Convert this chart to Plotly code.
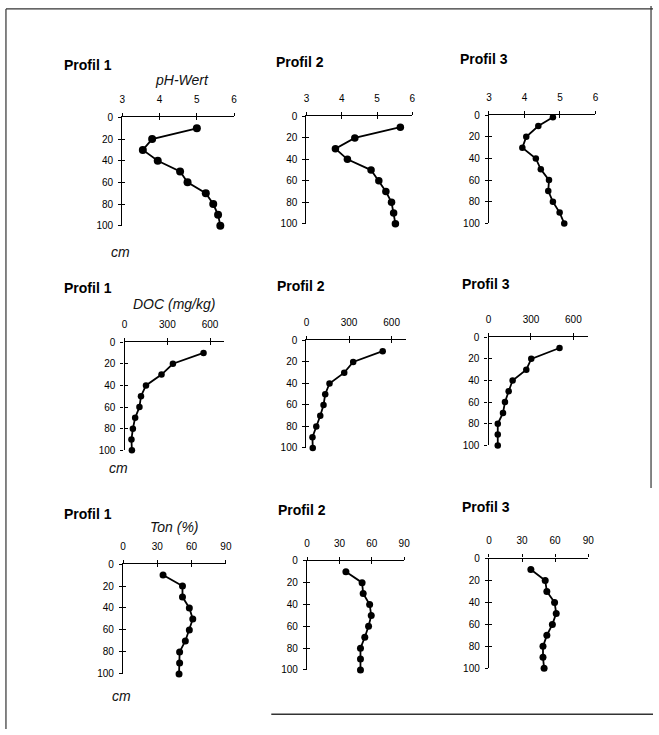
import plotly.graph_objects as go

W, H = 659, 735

# ---------------- data ----------------
depth = [10, 20, 30, 40, 50, 60, 70, 80, 90, 100]
depth_ph3 = [2, 10, 20, 30, 40, 50, 60, 70, 80, 90, 100]

ph_p1 = [5.0, 3.8, 3.55, 3.95, 4.55, 4.75, 5.24, 5.44, 5.57, 5.63]
ph_p2 = [5.66, 4.37, 3.82, 4.16, 4.83, 5.05, 5.25, 5.41, 5.47, 5.52]
ph_p3 = [4.80, 4.39, 4.05, 3.94, 4.32, 4.46, 4.69, 4.67, 4.80, 4.99, 5.12]

doc_p1 = [554, 339, 259, 150, 115, 104, 74, 58, 48, 51]
doc_p2 = [537, 329, 266, 162, 132, 120, 97, 69, 42, 44]
doc_p3 = [502, 302, 267, 170, 142, 116, 102, 65, 65, 65]

ton_p1 = [35, 52, 52, 58, 61, 58, 54.5, 49.5, 49.5, 49]
ton_p2 = [36, 51, 52, 58, 59.5, 57, 53.5, 49.5, 49.5, 49.5]
ton_p3 = [38, 51, 52.5, 59.5, 61, 57.5, 52.5, 49, 49, 50]

ph_ticks = [3, 4, 5, 6]
doc_ticks = [0, 300, 600]
ton_ticks = [0, 30, 60, 90]
depth_ticks = [0, 20, 40, 60, 80, 100]

profile_names = ["Profil 1", "Profil 2", "Profil 3"]
param_titles = ["pH-Wert", "DOC (mg/kg)", "Ton (%)"]
unit_label = "cm"

# ---------------- layout (pixel boxes) ----------------
rows = [
    dict(series=[ph_p1, ph_p2, ph_p3], depths=[depth, depth, depth_ph3],
         xr=[3, 6], ticks=ph_ticks, msize=[8, 7.5, 6.5]),
    dict(series=[doc_p1, doc_p2, doc_p3], depths=[depth, depth, depth],
         xr=[0, 700], ticks=doc_ticks, msize=[6.5, 6.5, 6.5]),
    dict(series=[ton_p1, ton_p2, ton_p3], depths=[depth, depth, depth],
         xr=[0, 90], ticks=ton_ticks, msize=[7, 7, 7]),
]
# (left, right, top, bottom) in pixels for each panel
boxes = [
    [(121, 234.3, 113.3, 223.3), (307.7, 415, 112.3, 221.3), (492.7, 600.7, 111, 221)],
    [(123.3, 224.4, 341.7, 451.7), (307.7, 408.4, 340, 449.3), (492.3, 592.6, 336.7, 446.7)],
    [(121.7, 226, 567.3, 679), (308.3, 406.7, 564, 675), (492.7, 593.3, 561.7, 673.3)],
]
profil_pos = [
    [(60, 60), (275, 57), (461, 54)],
    [(60, 287), (276, 285), (463, 283)],
    [(60, 516), (277, 512), (463, 509)],
]
title_pos = [(181, 75), (173, 303), (174, 530)]
cm_pos = [(119, 250), (117, 470), (120, 701)]


def px(x):
    return x / W


def py(y):
    return 1 - y / H


TICKFONT = dict(family="Liberation Sans, Arial, sans-serif", size=10, color="#000")
LINE = "#000"

fig = go.Figure()
layout = dict(
    width=W, height=H, margin=dict(l=0, r=0, t=0, b=0),
    paper_bgcolor="white", plot_bgcolor="rgba(0,0,0,0)",
    showlegend=False,
)
annotations = []

n = 0
for r, row in enumerate(rows):
    for c in range(3):
        n += 1
        l, rr, t, b = boxes[r][c]
        xa = "x" if n == 1 else f"x{n}"
        ya = "y" if n == 1 else f"y{n}"
        fig.add_trace(go.Scatter(
            x=row["series"][c], y=row["depths"][c], xaxis=xa, yaxis=ya,
            mode="lines+markers", cliponaxis=False,
            line=dict(color="#000", width=1.8),
            marker=dict(color="#000", size=row["msize"][c]),
            hoverinfo="skip",
        ))
        xkey = "xaxis" if n == 1 else f"xaxis{n}"
        ykey = "yaxis" if n == 1 else f"yaxis{n}"
        layout[xkey] = dict(
            domain=[px(l), px(rr)], range=row["xr"], tickvals=row["ticks"],
            side="top", anchor=ya, showline=True, linecolor=LINE, linewidth=1.4,
            ticks="outside", ticklen=3, tickwidth=1.2, tickcolor=LINE,
            showgrid=False, zeroline=False, tickfont=TICKFONT,
            ticklabelstandoff=6, fixedrange=True,
        )
        layout[ykey] = dict(
            domain=[py(b), py(t)], range=[100, 0], tickvals=depth_ticks,
            anchor=xa, showline=True, linecolor=LINE, linewidth=1.4,
            ticks="outside", ticklen=3, tickwidth=1.2, tickcolor=LINE,
            showgrid=False, zeroline=False, tickfont=TICKFONT,
            ticklabelstandoff=3, fixedrange=True,
        )
        # overlay axes to make ticks cross the axis line
        m = n + 9
        layout[f"xaxis{m}"] = dict(
            domain=[px(l), px(rr)], range=row["xr"], tickvals=row["ticks"],
            side="top", anchor=ya, overlaying=xa, showline=False,
            ticks="inside", ticklen=3, tickwidth=1.2, tickcolor=LINE,
            showticklabels=False, showgrid=False, zeroline=False, fixedrange=True,
        )
        layout[f"yaxis{m}"] = dict(
            domain=[py(b), py(t)], range=[100, 0], tickvals=depth_ticks,
            anchor=xa, overlaying=ya, showline=False,
            ticks="inside", ticklen=3, tickwidth=1.2, tickcolor=LINE,
            showticklabels=False, showgrid=False, zeroline=False, fixedrange=True,
        )
        fig.add_trace(go.Scatter(x=[None], y=[None], xaxis=f"x{m}", yaxis=f"y{m}",
                                 mode="markers", hoverinfo="skip"))
        # profile title
        ax_, ay_ = profil_pos[r][c]
        annotations.append(dict(
            text=f"<b>{profile_names[c]}</b>", x=px(ax_), y=py(ay_),
            xref="paper", yref="paper", xanchor="left", yanchor="middle",
            showarrow=False, font=dict(family="Liberation Sans, Arial", size=14, color="#000"),
        ))
    tx, ty = title_pos[r]
    annotations.append(dict(
        text=f"<i>{param_titles[r]}</i>", x=px(tx), y=py(ty),
        xref="paper", yref="paper", xanchor="center", yanchor="middle",
        showarrow=False, font=dict(family="Liberation Sans, Arial", size=14, color="#111"),
    ))
    cx, cy = cm_pos[r]
    annotations.append(dict(
        text=f"<i>{unit_label}</i>", x=px(cx), y=py(cy),
        xref="paper", yref="paper", xanchor="center", yanchor="middle",
        showarrow=False, font=dict(family="Liberation Sans, Arial", size=14, color="#111"),
    ))

layout["annotations"] = annotations
# scanned page frame
layout["shapes"] = [
    dict(type="line", xref="paper", yref="paper", x0=px(3), x1=px(3), y0=py(3), y1=py(735),
         line=dict(color="#333", width=1.2)),
    dict(type="line", xref="paper", yref="paper", x0=px(3), x1=px(659), y0=py(3), y1=py(3),
         line=dict(color="#333", width=1.2)),
    dict(type="line", xref="paper", yref="paper", x0=px(657), x1=px(657), y0=py(0), y1=py(490),
         line=dict(color="#333", width=1.2)),
    dict(type="line", xref="paper", yref="paper", x0=px(272), x1=px(659), y0=py(720), y1=py(720),
         line=dict(color="#333", width=1.5)),
]
fig.update_layout(**layout)
fig.write_html("out.html")
